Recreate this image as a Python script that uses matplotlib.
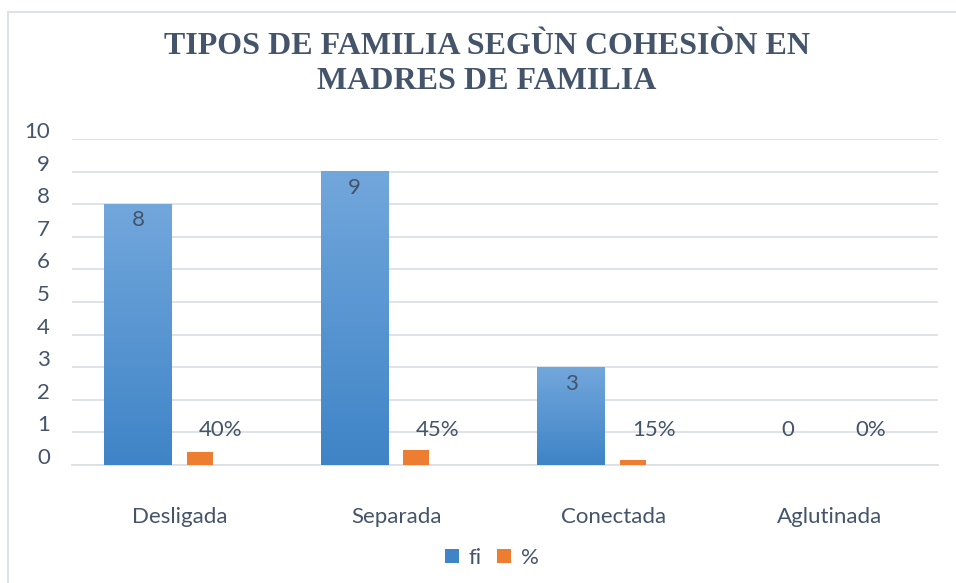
import matplotlib
matplotlib.use("Agg")
import matplotlib.pyplot as plt
import matplotlib.transforms as mtransforms
from matplotlib.patches import Patch
from matplotlib.lines import Line2D
from matplotlib.colors import LinearSegmentedColormap
import numpy as np

categories = ["Desligada", "Separada", "Conectada", "Aglutinada"]
fi_values = [8, 9, 3, 0]
pct_values = [0.40, 0.45, 0.15, 0.0]
pct_labels = ["40%", "45%", "15%", "0%"]
y_ticks = [0, 1, 2, 3, 4, 5, 6, 7, 8, 9, 10]
title = "TIPOS DE FAMILIA SEGÙN COHESIÒN EN\nMADRES DE FAMILIA"

TXT = "#44546a"
BLUE_TOP = "#72a7dc"
BLUE_BOT = "#3f84c7"
ORANGE = "#ed7d31"
GRID = "#dcdfe4"
FONT = ["Lato", "DejaVu Sans"]
FS = 16

W, H = 956, 583
fig = plt.figure(figsize=(W / 100, H / 100), dpi=100)
ax = fig.add_axes([72 / W, 1 - 465 / H, (938 - 72) / W, (465 - 139) / H])

x = np.arange(len(categories))
blue_off, blue_w = -0.195, 0.314
or_off, or_w = 0.091, 0.12

# gradient-filled blue bars
grad = np.linspace(0, 1, 256).reshape(-1, 1)
cmap = LinearSegmentedColormap.from_list("b", [BLUE_BOT, BLUE_TOP])
bars = ax.bar(x + blue_off, fi_values, width=blue_w, color="none", zorder=3)
for b in bars:
    h = b.get_height()
    if h <= 0:
        continue
    x0 = b.get_x()
    ax.imshow(grad, extent=[x0, x0 + b.get_width(), 0, h], origin="lower",
              aspect="auto", cmap=cmap, zorder=3, interpolation="bicubic")
ax.set_xlim(-0.5, len(categories) - 0.5)
ax.set_ylim(0, 10)

ax.bar(x + or_off, pct_values, width=or_w, color=ORANGE, zorder=3)

# labels
for xi, v in zip(x, fi_values):
    if v > 0:
        ax.text(xi + blue_off, v - 0.5, str(v), ha="center", va="center",
                fontsize=FS, color=TXT, family=FONT, zorder=5)
    else:
        ax.text(xi + blue_off, 1.07, str(v), ha="center", va="center",
                fontsize=FS, color=TXT, family=FONT, zorder=5)
for xi, lab in zip(x, pct_labels):
    ax.text(xi + or_off + 0.097, 1.07, lab, ha="center", va="center",
            fontsize=FS, color=TXT, family=FONT, zorder=5)

ax.set_yticks(y_ticks)
ax.set_xticks(x)
ax.set_xticklabels(categories)
ax.grid(axis="y", color=GRID, linewidth=1.3, zorder=0)
ax.set_axisbelow(True)
for s in ["top", "right", "left"]:
    ax.spines[s].set_visible(False)
ax.spines["bottom"].set_color(GRID)
ax.spines["bottom"].set_linewidth(1.3)
ax.tick_params(axis="both", length=0, labelsize=FS, colors=TXT)
ax.tick_params(axis="y", pad=16)
ax.tick_params(axis="x", pad=30)
for lab in ax.get_yticklabels() + ax.get_xticklabels():
    lab.set_family(FONT)
    lab.set_color(TXT)
for lab in ax.get_yticklabels():
    lab.set_transform(lab.get_transform() + mtransforms.ScaledTranslation(0, 9 / 100, fig.dpi_scale_trans))

fig.text(487 / W, 1 - 64 / H, title, ha="center", va="center", fontsize=23,
         fontweight="bold", family=["Liberation Serif", "DejaVu Serif"], color=TXT,
         linespacing=1.3)

handles = [Patch(facecolor=BLUE_BOT, edgecolor="none"), Patch(facecolor=ORANGE, edgecolor="none")]
leg = fig.legend(handles, ["fi", "%"], loc="center", bbox_to_anchor=(492 / W, 1 - 558 / H),
                 ncol=2, frameon=False, handlelength=0.6, handleheight=0.6,
                 handletextpad=0.45, columnspacing=0.7, prop={"family": FONT, "size": FS})
for t in leg.get_texts():
    t.set_color(TXT)

# chart border
fig.add_artist(Line2D([8 / W, 1], [1 - 12 / H, 1 - 12 / H], color="#dde2e8", linewidth=1.5))
fig.add_artist(Line2D([8 / W, 8 / W], [0, 1 - 12 / H], color="#dde2e8", linewidth=1.5))

fig.savefig("out.png", dpi=100)
